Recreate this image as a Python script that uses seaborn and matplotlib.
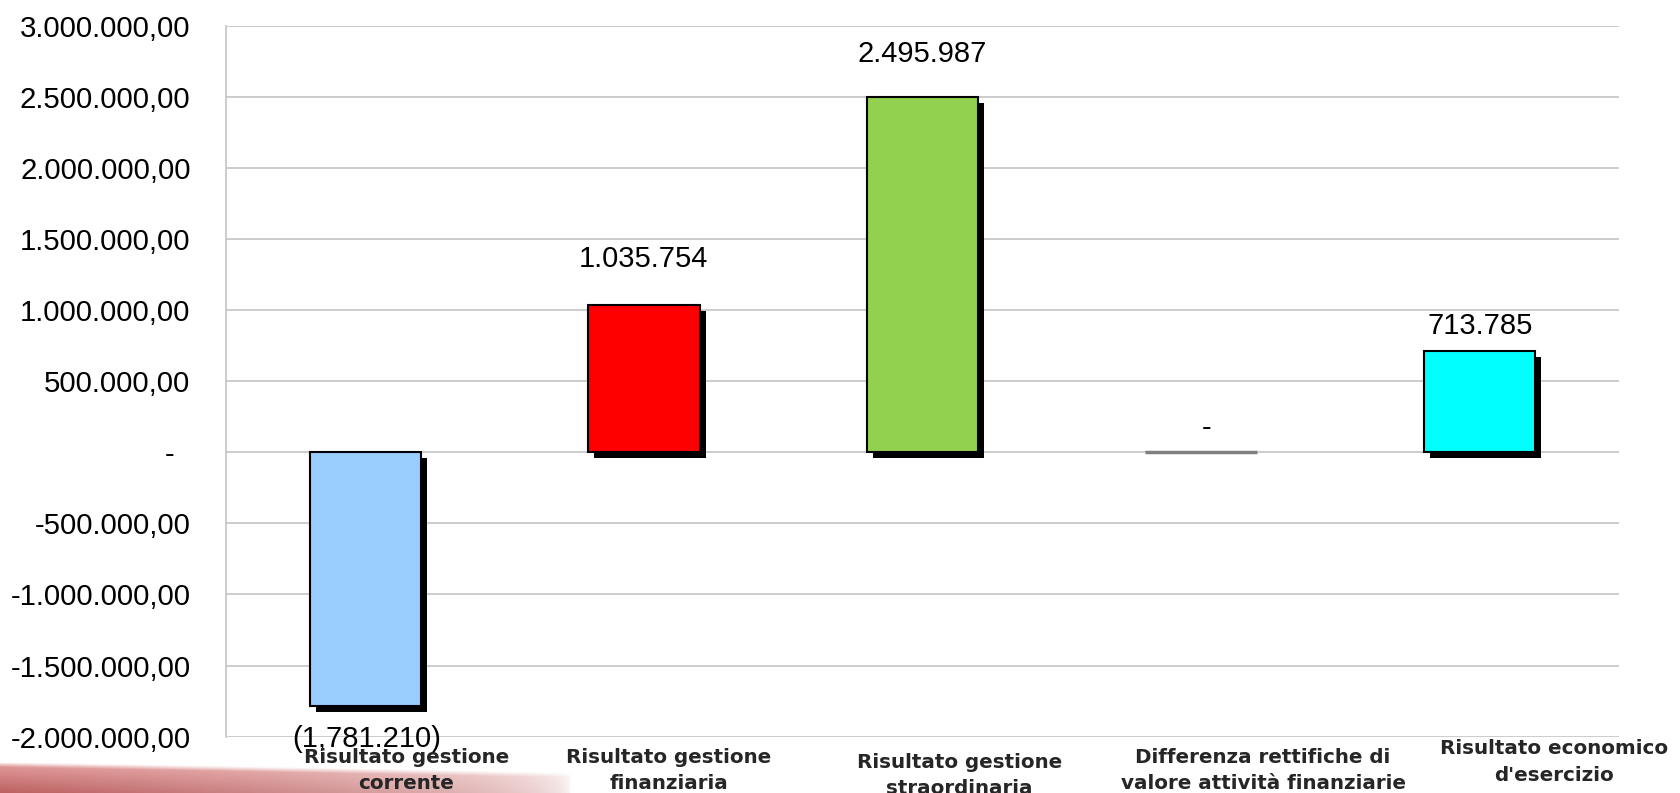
import numpy as np
import pandas as pd
import matplotlib
matplotlib.use("Agg")
import matplotlib.pyplot as plt
import matplotlib.patheffects as pe
from matplotlib.ticker import FuncFormatter, FixedLocator
import seaborn as sns

categories = [
    "Risultato gestione\ncorrente",
    "Risultato gestione\nfinanziaria",
    "Risultato gestione\nstraordinaria",
    "Differenza rettifiche di\nvalore attività finanziarie",
    "Risultato economico\nd'esercizio",
]
values = [-1781210, 1035754, 2495987, 0, 713785]
value_labels = ["(1,781.210)", "1.035.754", "2.495.987", "-", "713.785"]
bar_colors = ["#99ccff", "#ff0000", "#92d050", "#808080", "#00ffff"]
y_ticks = [-2000000, -1500000, -1000000, -500000, 0, 500000,
           1000000, 1500000, 2000000, 2500000, 3000000]


def it_fmt(v, pos=None):
    # italian accounting style, zero shown as a dash
    if v == 0:
        return "-  "
    s = f"{abs(v):,.2f}".replace(",", "X").replace(".", ",").replace("X", ".")
    return ("-" if v < 0 else "") + s


sns.set_style("white")
plt.rcParams["font.family"] = ["Liberation Sans", "DejaVu Sans"]

fig = plt.figure(figsize=(16.8, 7.93), dpi=100)

# decorative red swoosh bottom left
bg = fig.add_axes([0, 0, 0.34, 0.038], zorder=0)
xx = np.linspace(0, 1, 300)[None, :]
yy = np.linspace(0, 1, 40)[:, None]
top = np.array([0.90, 0.62, 0.62])
bot = np.array([0.74, 0.38, 0.38])
rgba = np.zeros((40, 300, 4))
rgba[..., :3] = (top * (1 - yy[..., None]) + bot * yy[..., None]) * np.ones((1, 300, 1))
edge = 0.15 + 0.35 * xx  # top edge slants down to the right
rgba[..., 3] = np.clip(1 - xx, 0, 1) ** 0.45 * np.clip((yy - edge) * 6 + 1, 0, 1)
bg.imshow(rgba, aspect="auto", extent=[0, 1, 0, 1], interpolation="bilinear")
bg.axis("off")

ax = fig.add_axes([0.1345, 0.0710, 0.8292, 0.8966], zorder=1)
ax.set_facecolor("none")

df = pd.DataFrame({"cat": categories, "val": values})
sns.barplot(data=df, x="cat", y="val", hue="cat", palette=bar_colors,
            legend=False, width=0.4, saturation=1, edgecolor="black",
            linewidth=1.5, ax=ax, zorder=3)

for i, p in enumerate(ax.patches):
    if values[i] == 0:
        p.set_edgecolor("#808080")
        p.set_linewidth(2.5)
    else:
        p.set_path_effects([pe.SimplePatchShadow(offset=(4.3, -4.3), shadow_rgbFace="black", alpha=1.0),
                            pe.Normal()])

ax.set_xlim(-0.5, 4.5)
ax.set_ylim(-2000000, 3000000)
ax.yaxis.set_major_locator(FixedLocator(y_ticks))
ax.yaxis.set_major_formatter(FuncFormatter(it_fmt))
ax.grid(axis="y", color="#c4c4c4", linewidth=1.2, zorder=0)
ax.set_axisbelow(True)
for side in ["top", "right", "bottom"]:
    ax.spines[side].set_visible(False)
ax.spines["left"].set_color("#c4c4c4")
ax.spines["left"].set_linewidth(1.2)
ax.tick_params(axis="y", direction="out", length=6.5, width=1.2, color="#c4c4c4",
               pad=19, labelsize=21.2, labelcolor="black")
ax.tick_params(axis="x", length=0, labelbottom=False)
ax.set_xlabel("")
ax.set_ylabel("")

# value labels
label_offsets = [(1, -30), (0, 27.4), (0, 25.2), (4, 12), (0, 12)]
for i, (v, txt) in enumerate(zip(values, value_labels)):
    dx, dy = label_offsets[i]
    ax.annotate(txt, xy=(i, v), xytext=(dx, dy), textcoords="offset points",
                ha="center", va="baseline", fontsize=21, color="black",
                annotation_clip=False, zorder=5)

# category labels
cat_offsets = [(29.5, -7.8), (18, -7.8), (26.6, -11.4), (44.6, -7.8), (53.3, -2.0)]
for i, name in enumerate(categories):
    dx, dy = cat_offsets[i]
    ax.annotate(name, xy=(i, 0), xycoords=("data", "axes fraction"),
                xytext=(dx, dy), textcoords="offset points",
                ha="center", va="top", multialignment="center",
                fontsize=14.3, fontweight="bold", family="DejaVu Sans",
                linespacing=1.5, annotation_clip=False, zorder=5)

fig.savefig("out.png", dpi=100)
